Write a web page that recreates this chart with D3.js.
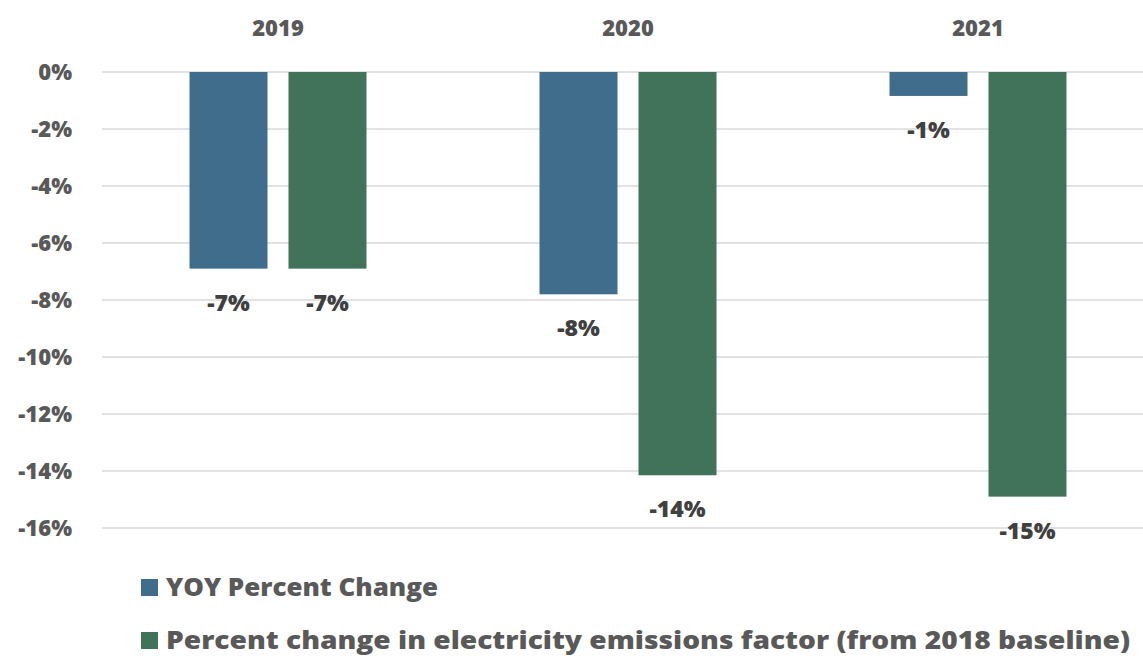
<!DOCTYPE html>
<html>
<head>
<meta charset="utf-8">
<script src="https://cdn.jsdelivr.net/npm/d3@7"></script>
<style>
  html, body { margin: 0; padding: 0; background: #fff; }
  svg { display: block; font-family: "Open Sans", "DejaVu Sans", sans-serif; }
</style>
</head>
<body>
<svg id="chart" width="1143" height="656"></svg>
<script>
const categories = ["2019", "2020", "2021"];
const seriesNames = ["YOY Percent Change", "Percent change in electricity emissions factor (from 2018 baseline)"];
const yoyValues = [-6.9, -7.8, -0.84];
const factorValues = [-6.9, -14.15, -14.9];
const valueLabels = [["-7%", "-8%", "-1%"], ["-7%", "-14%", "-15%"]];
const yTicks = [0, -2, -4, -6, -8, -10, -12, -14, -16];
const colors = ["#3f6d8b", "#41725a"];

const svg = d3.select("#chart");
const y = d3.scaleLinear().domain([0, -16]).range([72, 528]);
const x0 = d3.scaleBand().domain(categories).range([103, 1153]).paddingInner(0).paddingOuter(0);
const x1 = d3.scaleBand().domain([0, 1]).range([0, x0.bandwidth()]).paddingInner(0.212).paddingOuter(0.874);

// gridlines
svg.append("g").selectAll("line").data(yTicks).join("line")
  .attr("x1", 102).attr("x2", 1143)
  .attr("y1", d => y(d)).attr("y2", d => y(d))
  .attr("stroke", "#d9d9d9").attr("stroke-width", 1.5);

// y axis labels
const yAxis = d3.axisLeft(y).tickValues(yTicks).tickSize(0).tickPadding(0)
  .tickFormat(d => (d === 0 ? "0" : "-" + Math.abs(d)) + "%");
const gy = svg.append("g").attr("transform", "translate(72,0)").call(yAxis);
gy.select(".domain").remove();
gy.selectAll("text").attr("font-size", 22).attr("font-weight", 800).attr("fill", "#595959")
  .attr("font-family", "'Open Sans', sans-serif").attr("dy", "0.35em");

// category labels on top
const xAxis = d3.axisTop(x0).tickSize(0).tickPadding(0);
const gx = svg.append("g").attr("transform", "translate(0,36)").call(xAxis);
gx.select(".domain").remove();
gx.selectAll("text").attr("font-size", 22).attr("font-weight", 800).attr("fill", "#595959")
  .attr("font-family", "'Open Sans', sans-serif").attr("dy", "0");

const series = [yoyValues, factorValues];
const data = [];
categories.forEach((c, i) => {
  series.forEach((s, j) => data.push({cat: c, s: j, v: s[i], label: valueLabels[j][i]}));
});

svg.append("g").selectAll("rect").data(data).join("rect")
  .attr("x", d => x0(d.cat) + x1(d.s))
  .attr("width", x1.bandwidth())
  .attr("y", y(0))
  .attr("height", d => y(d.v) - y(0))
  .attr("fill", d => colors[d.s]);

svg.append("g").selectAll("text").data(data).join("text")
  .attr("x", d => x0(d.cat) + x1(d.s) + x1.bandwidth() / 2)
  .attr("y", d => y(d.v) + 34)
  .attr("dy", "0.35em")
  .attr("text-anchor", "middle")
  .attr("font-size", 23).attr("font-weight", 800).attr("fill", "#404040")
  .text(d => d.label);

// legend
const legendY = [588, 641];
const legendW = [272, 964];
const lg = svg.append("g").selectAll("g").data(seriesNames).join("g")
  .attr("transform", (d, i) => `translate(141,${legendY[i]})`);
lg.append("rect").attr("x", 0).attr("y", -9).attr("width", 17).attr("height", 17)
  .attr("fill", (d, i) => colors[i]);
lg.append("text").attr("x", 25).attr("y", 0).attr("dy", "0.35em")
  .attr("font-size", 24).attr("font-weight", 800).attr("fill", "#595959")
  .attr("textLength", (d, i) => legendW[i]).attr("lengthAdjust", "spacingAndGlyphs")
  .text(d => d);
</script>
</body>
</html>
